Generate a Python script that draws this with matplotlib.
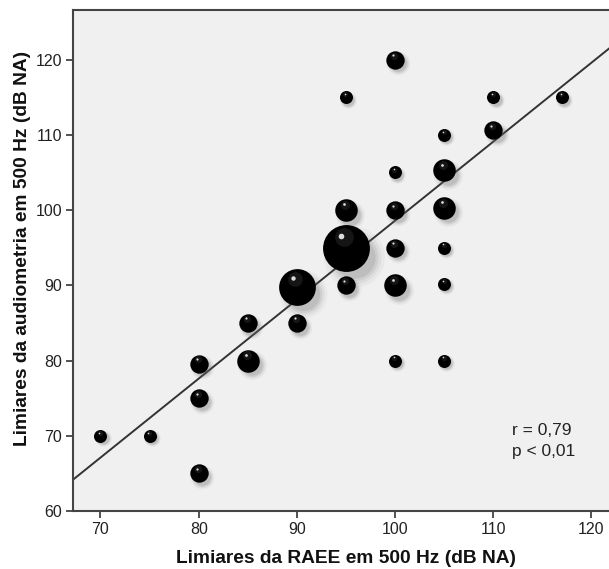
import numpy as np
import matplotlib
matplotlib.use('Agg')
import matplotlib.pyplot as plt
from matplotlib.transforms import ScaledTranslation

plt.rcParams['font.family'] = ['Liberation Sans', 'DejaVu Sans']

# thresholds (dB NA) and number of ears at each pair
raee = [70, 75, 80, 80, 80, 85, 85, 90, 90, 95, 95, 95, 95,
        100, 100, 100, 100, 100, 100, 105, 105, 105, 105, 105, 105, 110, 110, 117]
audio = [70, 70, 65, 75, 79.6, 85, 80, 85, 89.8, 95, 90, 100, 115,
         120, 105, 100, 95, 90, 80, 110, 105.3, 100.3, 95, 90.2, 80, 115, 110.6, 115]
count = [1, 1, 2, 2, 2, 2, 3, 2, 8, 13, 2, 3, 1,
         2, 1, 2, 2, 3, 1, 1, 3, 3, 1, 1, 1, 1, 2, 1]

# fitted line
slope = 1.05
intercept = -6.4
r_text = 'r = 0,79\np < 0,01'

fig = plt.figure(figsize=(6.09, 5.69), dpi=100)
ax = fig.add_axes([73/609, 58/569, 545/609, 501/569])
ax.set_facecolor('#f0f0f0')

xmin, xmax = 67.2, 67.2 + 545/9.82
ax.set_xlim(xmin, xmax)
ax.set_ylim(60, 126.6)

xs = np.array([xmin, xmax])
ax.plot(xs, intercept + slope*xs, color='#333333', lw=1.4, zorder=2)

base_px = 13.0
for x, y, n in zip(raee, audio, count):
    d_pt = base_px*np.sqrt(n)*0.72
    r_in = d_pt/72/2
    # soft shadow down-right
    tr = ax.transData + ScaledTranslation(r_in*0.35, -r_in*0.4, fig.dpi_scale_trans)
    for k, a in zip([1.3, 1.15, 1.02, 0.9], [0.05, 0.08, 0.12, 0.15]):
        ax.scatter([x], [y], s=(d_pt*k)**2, color='#666666', alpha=a,
                   linewidths=0, transform=tr, zorder=3)
    ax.scatter([x], [y], s=d_pt**2, color='black', linewidths=0, zorder=4)
    # faint gloss near the top
    tr = ax.transData + ScaledTranslation(-r_in*0.1, r_in*0.45, fig.dpi_scale_trans)
    ax.scatter([x], [y], s=(d_pt*0.4)**2, color='#555555', linewidths=0,
               transform=tr, zorder=5, alpha=0.25)
    # specular highlight
    tr = ax.transData + ScaledTranslation(-r_in*0.2, r_in*0.5, fig.dpi_scale_trans)
    ax.scatter([x], [y], s=(d_pt*0.12)**2, color='white', linewidths=0,
               transform=tr, zorder=6, alpha=0.85)

for side in ['left', 'bottom', 'top', 'right']:
    ax.spines[side].set_color('#444444')
    ax.spines[side].set_linewidth(1.5)

ax.set_xticks([70, 80, 90, 100, 110, 120])
ax.set_yticks([60, 70, 80, 90, 100, 110, 120])
ax.tick_params(direction='out', length=5, width=1.3, color='#444444',
               labelsize=11.5, labelcolor='#222222', pad=3)

ax.set_xlabel('Limiares da RAEE em 500 Hz (dB NA)', fontsize=13.8,
              fontweight='bold', labelpad=9.5, color='#111111')
ax.set_ylabel('Limiares da audiometria em 500 Hz (dB NA)', fontsize=13.8,
              fontweight='bold', color='#111111')
ax.yaxis.set_label_coords(-0.077, 0.525)

ax.text(111.9, 71.7, r_text, fontsize=12.5, color='#222222', va='top',
        linespacing=1.5)

fig.savefig('out.png', dpi=100)
